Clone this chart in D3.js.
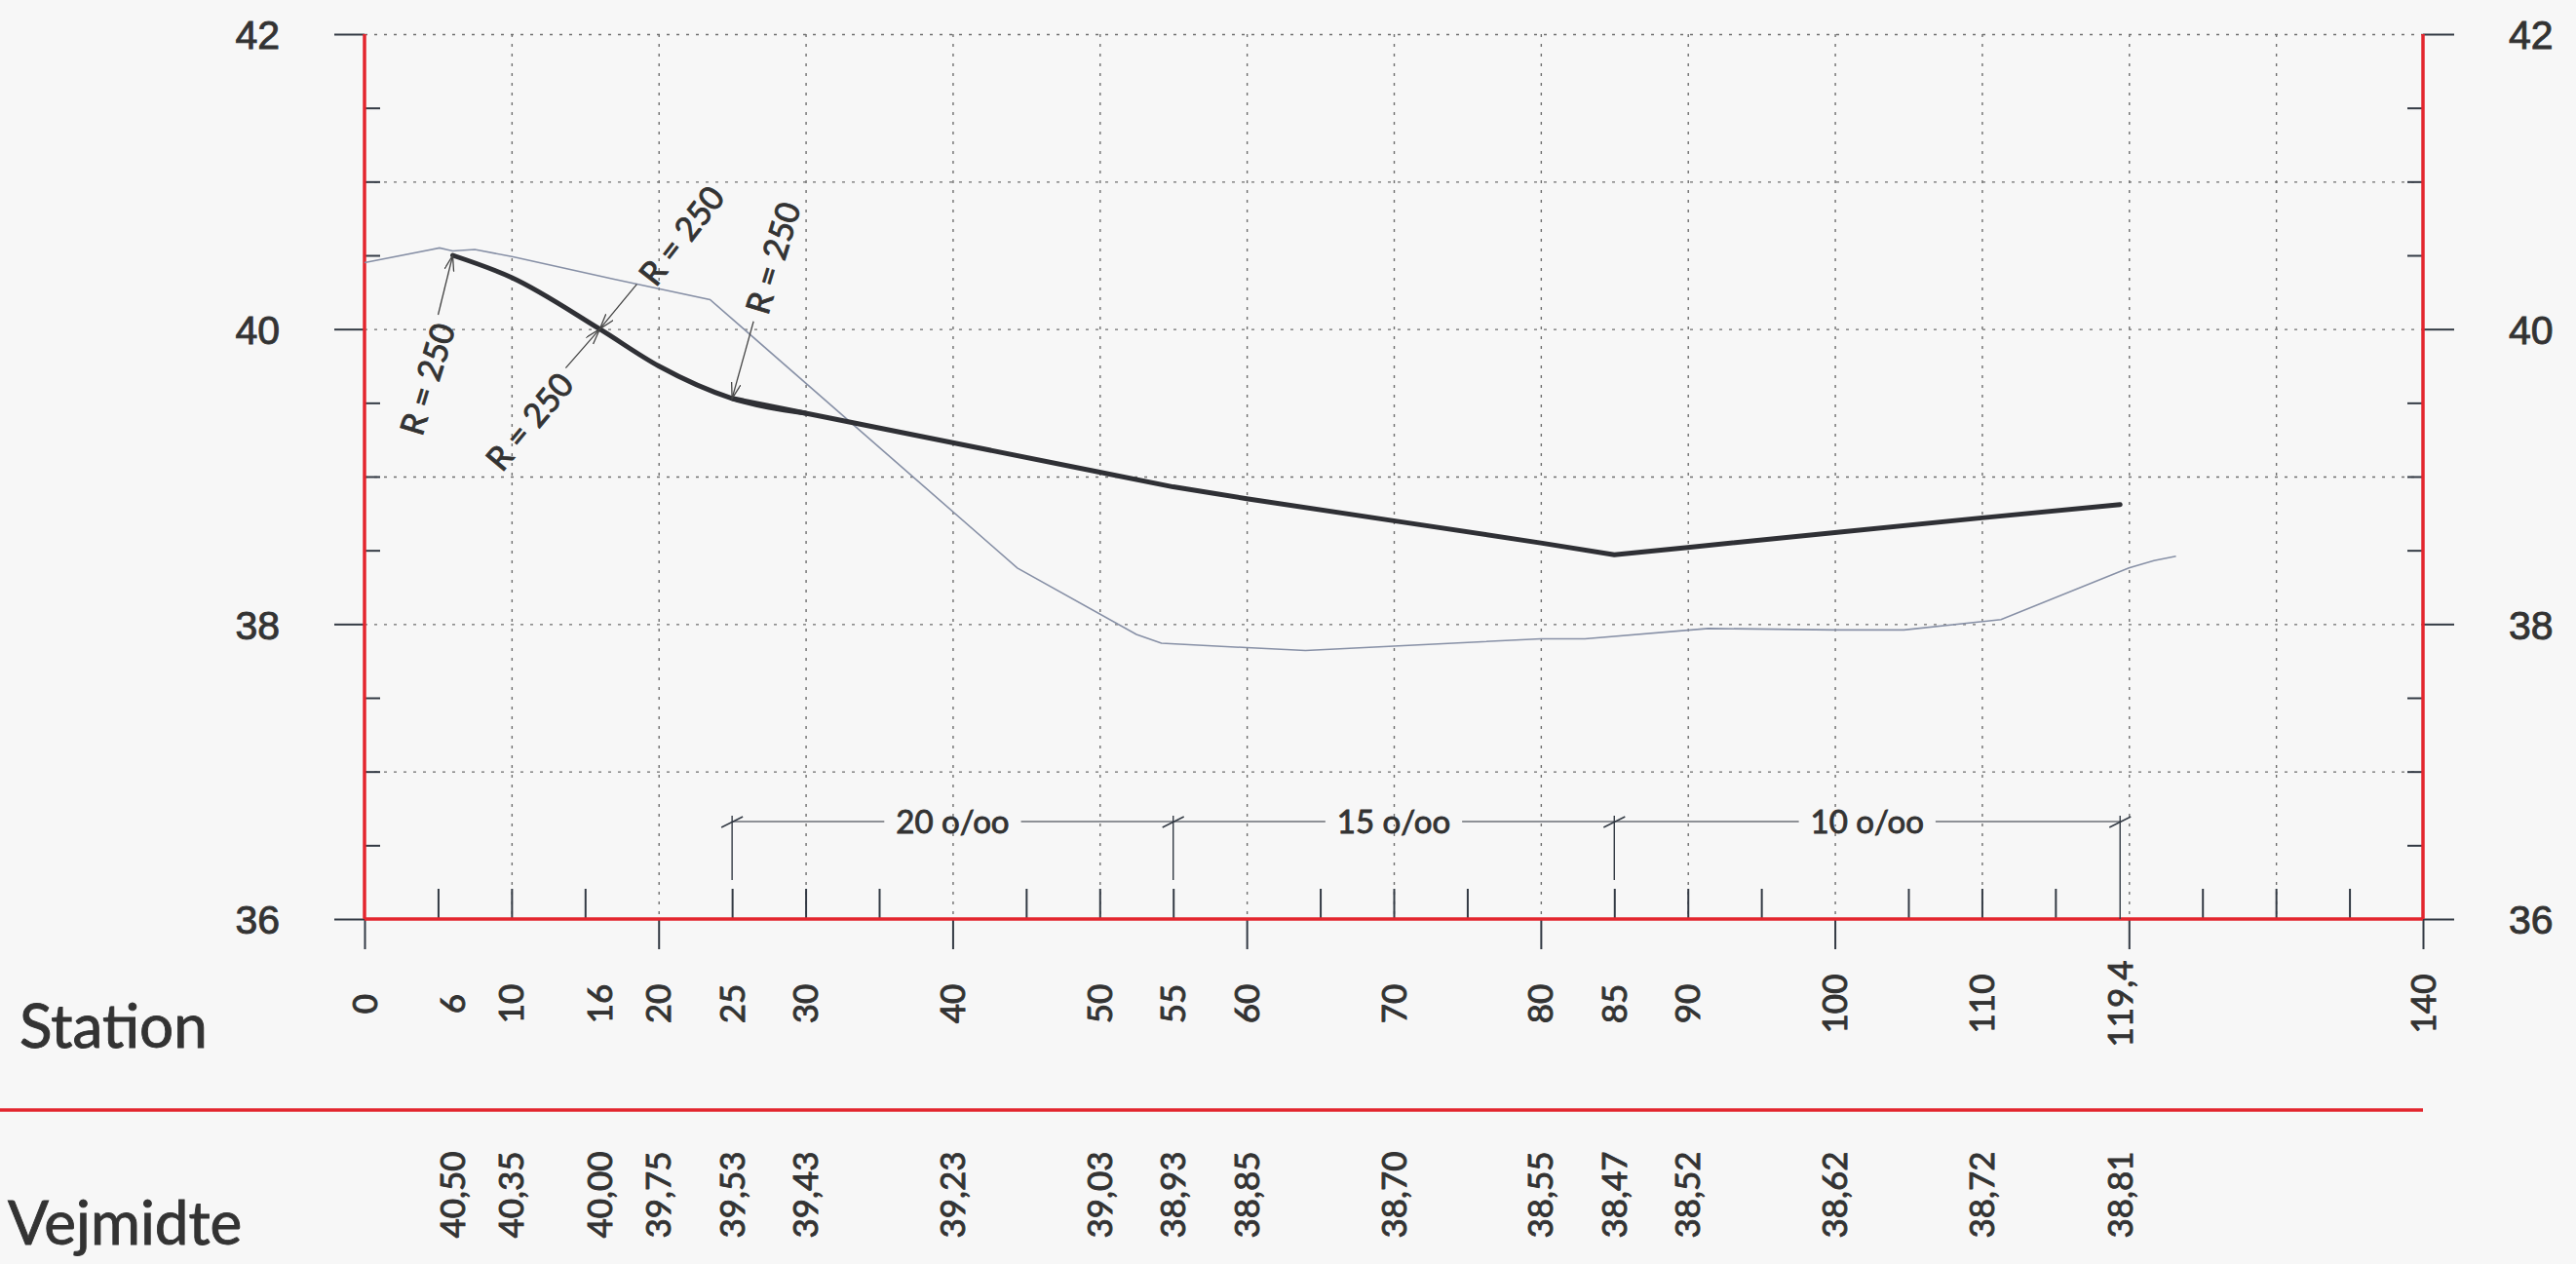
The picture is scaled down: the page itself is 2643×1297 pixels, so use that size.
<!DOCTYPE html>
<html>
<head>
<meta charset="utf-8">
<script src="https://cdn.jsdelivr.net/npm/d3@7"></script>
<style>
  html, body { margin: 0; padding: 0; background: #f7f7f7; }
  svg { display: block; font-family: Lato, "Open Sans", sans-serif; }
  svg text { stroke: #333; stroke-width: 0.9px; }
  .grid line { stroke: #6f6f6f; stroke-width: 1.4; stroke-dasharray: 3 7; }
  .grid path { display: none; }
  .tk path { display: none; }
  .tk line { stroke: #333a44; stroke-width: 2; }
  .tk text { fill: #333; font-size: 41px; }
</style>
</head>
<body>
<svg id="chart"></svg>
<script>
var width = 2643, height = 1297;

// station labels on the x axis
var stations = [0, 6, 10, 16, 20, 25, 30, 40, 50, 55, 60, 70, 80, 85, 90, 100, 110, 119.4, 140];
var stationLabels = ["0", "6", "10", "16", "20", "25", "30", "40", "50", "55", "60", "70", "80", "85", "90", "100", "110", "119,4", "140"];

// road centre line (Vejmidte)
var roadStations = [6, 10, 16, 20, 25, 30, 40, 50, 55, 60, 70, 80, 85, 90, 100, 110, 119.4];
var roadLevels = [40.50, 40.35, 40.00, 39.75, 39.53, 39.43, 39.23, 39.03, 38.93, 38.85, 38.70, 38.55, 38.47, 38.52, 38.62, 38.72, 38.81];
var roadLabels = ["40,50", "40,35", "40,00", "39,75", "39,53", "39,43", "39,23", "39,03", "38,93", "38,85", "38,70", "38,55", "38,47", "38,52", "38,62", "38,72", "38,81"];

// existing terrain
var terrainStations = [0, 5.1, 6.0, 7.5, 10.1, 16.9, 23.5, 44.4, 52.5, 54.2, 60, 64, 70, 80, 83, 91.4, 100, 104.7, 111.3, 120, 121.7, 123.2];
var terrainLevels = [40.45, 40.55, 40.53, 40.54, 40.49, 40.34, 40.20, 38.38, 37.93, 37.87, 37.84, 37.82, 37.85, 37.90, 37.90, 37.97, 37.96, 37.96, 38.03, 38.38, 38.43, 38.46];

// grade sections
var gradeBreaks = [25, 55, 85, 119.4];
var gradeLabels = ["20 o/oo", "15 o/oo", "10 o/oo"];

// vertical curve radius notes
var curveStations = [6, 16, 16, 25];
var curveLevels = [40.50, 40.00, 40.00, 39.53];
var curveLabels = ["R = 250", "R = 250", "R = 250", "R = 250"];

var yMajor = [36, 38, 40, 42];
var yMinor = [36.5, 37, 37.5, 38.5, 39, 39.5, 40.5, 41, 41.5];
var yGrid = [37, 38, 39, 40, 41, 42];
var xMajor = [0, 20, 40, 60, 80, 100, 120, 140];
var xMinor = [5, 10, 15, 25, 30, 35, 45, 50, 55, 65, 70, 75, 85, 90, 95, 105, 110, 115, 125, 130, 135];
var xGrid = [10, 20, 30, 40, 50, 60, 70, 80, 90, 100, 110, 120, 130];

var red = "#e3262e", ink = "#333a44";
var x0 = 374, x1 = 2486, y0 = 35, y1 = 943;

var svg = d3.select("#chart").attr("width", width).attr("height", height);
svg.append("rect").attr("width", width).attr("height", height).attr("fill", "#f7f7f7");

var x = d3.scaleLinear().domain([0, 140]).range([x0, x1]);
var y = d3.scaleLinear().domain([36, 42]).range([y1, y0]);

// grid
svg.append("g").attr("class", "grid")
    .attr("transform", `translate(${x0},0)`)
    .call(d3.axisRight(y).tickValues(yGrid).tickSize(x1 - x0).tickFormat(""));
svg.append("g").attr("class", "grid")
    .attr("transform", `translate(0,${y0})`)
    .call(d3.axisBottom(x).tickValues(xGrid).tickSize(y1 - y0).tickFormat(""));

// y axes
svg.append("g").attr("class", "tk")
    .attr("transform", `translate(${x0},0)`)
    .call(d3.axisLeft(y).tickValues(yMajor).tickSize(31).tickPadding(56).tickFormat(d3.format("d")));
svg.append("g").attr("class", "tk")
    .attr("transform", `translate(${x0},0)`)
    .call(d3.axisRight(y).tickValues(yMinor).tickSize(16).tickFormat(""));
svg.append("g").attr("class", "tk")
    .attr("transform", `translate(${x1},0)`)
    .call(d3.axisRight(y).tickValues(yMajor).tickSize(32).tickPadding(56).tickFormat(d3.format("d")));
svg.append("g").attr("class", "tk")
    .attr("transform", `translate(${x1},0)`)
    .call(d3.axisLeft(y).tickValues(yMinor).tickSize(16).tickFormat(""));
svg.selectAll(".tk line").attr("stroke-width", 1.6);
svg.selectAll(".tk text").attr("dy", "0.36em");

// x axis ticks
svg.append("g").attr("class", "tk")
    .attr("transform", `translate(0,${y1})`)
    .call(d3.axisBottom(x).tickValues(xMajor).tickSize(31).tickFormat(""));
svg.append("g").attr("class", "tk")
    .attr("transform", `translate(0,${y1})`)
    .call(d3.axisTop(x).tickValues(xMinor).tickSize(31).tickFormat(""));

// red frame lines
svg.append("line").attr("x1", x0).attr("x2", x0).attr("y1", y0).attr("y2", y1)
    .attr("stroke", red).attr("stroke-width", 3.5);
svg.append("line").attr("x1", x1).attr("x2", x1).attr("y1", y0).attr("y2", y1)
    .attr("stroke", red).attr("stroke-width", 3.5);
svg.append("line").attr("x1", x0).attr("x2", x1).attr("y1", y1).attr("y2", y1)
    .attr("stroke", red).attr("stroke-width", 3.5);
svg.append("line").attr("x1", 0).attr("x2", x1).attr("y1", 1139).attr("y2", 1139)
    .attr("stroke", red).attr("stroke-width", 3.5);

// grade dimension line
var dimY = 843;
var dim = svg.append("g");
dim.append("line")
    .attr("x1", x(gradeBreaks[0])).attr("x2", x(gradeBreaks[gradeBreaks.length - 1]))
    .attr("y1", dimY).attr("y2", dimY)
    .attr("stroke", "#6b6f76").attr("stroke-width", 1.6);
dim.selectAll(".ext").data(gradeBreaks).enter().append("line")
    .attr("x1", d => x(d)).attr("x2", d => x(d))
    .attr("y1", dimY - 6)
    .attr("y2", d => xMinor.indexOf(d) >= 0 ? y1 - 40 : y1)
    .attr("stroke", ink).attr("stroke-width", 1.4);
dim.selectAll(".slash").data(gradeBreaks).enter().append("line")
    .attr("x1", d => x(d) - 11).attr("x2", d => x(d) + 11)
    .attr("y1", dimY + 6).attr("y2", dimY - 5)
    .attr("stroke", ink).attr("stroke-width", 1.4);
gradeLabels.forEach(function (lab, i) {
    var cx = x((gradeBreaks[i] + gradeBreaks[i + 1]) / 2);
    var t = dim.append("text")
        .attr("x", cx).attr("y", dimY).attr("dy", "0.36em")
        .attr("text-anchor", "middle")
        .attr("font-size", 33).attr("fill", "#333")
        .text(lab);
    var bb = t.node().getBBox();
    dim.insert("rect", "text")
        .attr("x", bb.x - 12).attr("y", dimY - 3).attr("width", bb.width + 24).attr("height", 6)
        .attr("fill", "#f7f7f7");
});

// terrain
svg.append("path")
    .datum(d3.zip(terrainStations, terrainLevels))
    .attr("fill", "none").attr("stroke", "#8790a6").attr("stroke-width", 1.6)
    .attr("d", d3.line().x(d => x(d[0])).y(d => y(d[1])));

// road profile: vertical curves near the start, straight grades after
var road = d3.zip(roadStations, roadLevels);
svg.append("path")
    .datum(road.filter(d => d[0] <= 30))
    .attr("fill", "none").attr("stroke", "#2f3035").attr("stroke-width", 5)
    .attr("stroke-linecap", "round")
    .attr("d", d3.line().curve(d3.curveMonotoneX).x(d => x(d[0])).y(d => y(d[1])));
svg.append("path")
    .datum(road.filter(d => d[0] >= 25))
    .attr("fill", "none").attr("stroke", "#2f3035").attr("stroke-width", 5)
    .attr("stroke-linecap", "round").attr("stroke-linejoin", "round")
    .attr("d", d3.line().x(d => x(d[0])).y(d => y(d[1])));

// R = 250 notes
svg.append("defs").append("marker")
    .attr("id", "arr").attr("markerUnits", "userSpaceOnUse")
    .attr("markerWidth", 20).attr("markerHeight", 12)
    .attr("refX", 16).attr("refY", 5).attr("orient", "auto")
    .append("path").attr("d", "M0,0 L16,5 L0,10")
    .attr("fill", "none").attr("stroke", "#444").attr("stroke-width", 1.3);

// pixel offsets of each note: arrow tail, text centre, text angle
var noteLayout = [
    { ax: -15, ay: 61, tx: -26, ty: 127, rot: -73 },
    { ax: -35, ay: 40, tx: -72, ty: 95, rot: -50 },
    { ax: 38, ay: -46, tx: 84, ty: -96, rot: -52 },
    { ax: 22, ay: -79, tx: 42, ty: -144, rot: -73 }
];
curveLabels.forEach(function (lab, i) {
    var px = x(curveStations[i]), py = y(curveLevels[i]), L = noteLayout[i];
    svg.append("line")
        .attr("x1", px + L.ax).attr("y1", py + L.ay).attr("x2", px).attr("y2", py)
        .attr("stroke", "#444").attr("stroke-width", 1.3)
        .attr("marker-end", "url(#arr)");
    svg.append("text")
        .attr("transform", `translate(${px + L.tx},${py + L.ty}) rotate(${L.rot})`)
        .attr("text-anchor", "middle").attr("dy", "0.36em")
        .attr("font-size", 34).attr("fill", "#333")
        .text(lab);
});

// station labels
svg.append("g").selectAll("text").data(stations).enter().append("text")
    .attr("transform", (d, i) => `translate(${x(d)},1030) rotate(-90)`)
    .attr("text-anchor", "middle").attr("dy", "0.36em")
    .attr("font-size", 35).attr("fill", "#333")
    .text((d, i) => stationLabels[i]);

// road level labels
svg.append("g").selectAll("text").data(roadStations).enter().append("text")
    .attr("transform", d => `translate(${x(d)},1226) rotate(-90)`)
    .attr("text-anchor", "middle").attr("dy", "0.36em")
    .attr("font-size", 35).attr("fill", "#333")
    .text((d, i) => roadLabels[i]);

// row titles
svg.append("text").attr("x", 20).attr("y", 1075)
    .attr("font-size", 62).attr("fill", "#333").text("Station");
svg.append("text").attr("x", 8).attr("y", 1277)
    .attr("font-size", 62).attr("fill", "#333").text("Vejmidte");
</script>
</body>
</html>
